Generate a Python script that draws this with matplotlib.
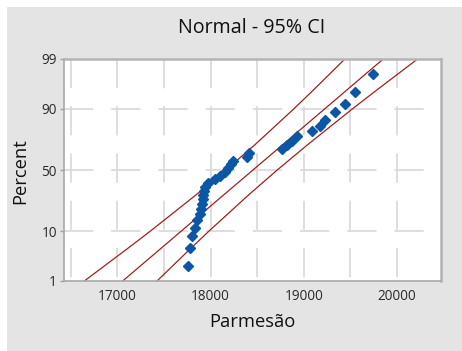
import matplotlib
matplotlib.use("Agg")
import matplotlib.pyplot as plt
from matplotlib.patches import Rectangle
from statistics import NormalDist

# sorted sample values and their plotting positions (percent)
parmesao = [17782, 17761, 17804, 17836, 17857, 17889, 17900, 17911,
            17921, 17921, 17932, 17943, 17975, 18050, 18104, 18157,
            18189, 18221, 18243, 18393, 18414, 18768, 18821, 18875,
            18929, 19089, 19175, 19229, 19336, 19443, 19550, 19743]
percent = [2.2, 5.2, 8.3, 11.4, 14.5, 17.6, 20.7, 23.8,
           26.9, 29.9, 33.0, 36.1, 39.2, 42.3, 45.4, 48.5,
           51.5, 54.6, 57.7, 60.8, 63.9, 67.0, 70.1, 73.1,
           76.2, 79.3, 82.4, 85.5, 88.6, 91.7, 94.8, 97.8]

# fitted line and 95% confidence bounds read at a few percent levels
line_pct = [1, 5, 10, 30, 50, 70, 90, 95, 99]
fit_x = [17059, 17468, 17686, 18140, 18455, 18770, 19224, 19442, 19851]
lower_x = [16648, 17112, 17355, 17843, 18165, 18473, 18893, 19086, 19440]
upper_x = [17427, 17787, 17983, 18407, 18715, 19037, 19521, 19761, 20219]

y_ticks = [1, 10, 50, 90, 99]
x_ticks = [17000, 18000, 19000, 20000]
x_grid = [16500, 17000, 17500, 18000, 18500, 19000, 19500, 20000]

FONT = "Open Sans"
RED = "#a01e1e"
BLUE = "#0b56a6"
GRID = "#d8d8d8"

z = NormalDist().inv_cdf


def zs(pcts):
    return [z(p / 100.0) for p in pcts]


plt.rcParams["lines.scale_dashes"] = False

fig = plt.figure(figsize=(4.62, 3.51), dpi=100, facecolor="white")
fig.patches.append(Rectangle((7 / 462, 0), 1, 1 - 7 / 351, transform=fig.transFigure,
                             facecolor="#e4e4e4", edgecolor="none", zorder=-10))

ax = fig.add_axes([64 / 462, 1 - 281 / 351, 377 / 462, 222 / 351])
ax.set_facecolor("white")
xmin, xmax = 16430, 20470
zmin, zmax = z(0.01), z(0.99)
ax.set_xlim(xmin, xmax)
ax.set_ylim(zmin, zmax)

# broken grid lines, dashes measured from the top / left edge
dash = (0, (21, 13))
for gx in x_grid:
    ax.plot([gx, gx], [zmax, zmin], color=GRID, lw=1.2, ls=dash, zorder=0)
for gy in zs([10, 50, 90]):
    ax.plot([xmin, xmax], [gy, gy], color=GRID, lw=1.2, ls=dash, zorder=0)

ax.plot(lower_x, zs(line_pct), color=RED, lw=0.9, zorder=2)
ax.plot(fit_x, zs(line_pct), color=RED, lw=0.9, zorder=2)
ax.plot(upper_x, zs(line_pct), color=RED, lw=0.9, zorder=2)

ax.plot(sorted(parmesao), zs(percent), ls="none", marker="D", ms=5.6,
        color=BLUE, mec=BLUE, zorder=3)

ax.set_yticks(zs(y_ticks))
ax.set_yticklabels([str(t) for t in y_ticks])
ax.set_xticks(x_ticks)
ax.set_xticklabels([str(t) for t in x_ticks])
ax.tick_params(axis="both", colors="#a0a0a0", labelcolor="#2a2a2a",
               labelsize=9.8, length=3, width=1, pad=2)
ax.tick_params(axis="x", length=0, pad=6)
for lab in ax.get_xticklabels() + ax.get_yticklabels():
    lab.set_fontfamily(FONT)

for side in ["left", "bottom"]:
    ax.spines[side].set_color("#a8a8a8")
    ax.spines[side].set_linewidth(1.2)
for side in ["right", "top"]:
    ax.spines[side].set_color("#b4b4b4")
    ax.spines[side].set_linewidth(1.8)

fig.text(252 / 462, 1 - 28 / 351, "Normal - 95% CI", ha="center", va="center",
         fontsize=14.2, family=FONT, color="#111111")
fig.text(252 / 462, 1 - 322 / 351, "Parmesão", ha="center", va="center",
         fontsize=13.2, family=FONT, color="#111111")
fig.text(20 / 462, 1 - 171 / 351, "Percent", ha="center", va="center",
         rotation=90, fontsize=13.2, family=FONT, color="#111111")

fig.savefig("out.png", dpi=100, facecolor=fig.get_facecolor())
